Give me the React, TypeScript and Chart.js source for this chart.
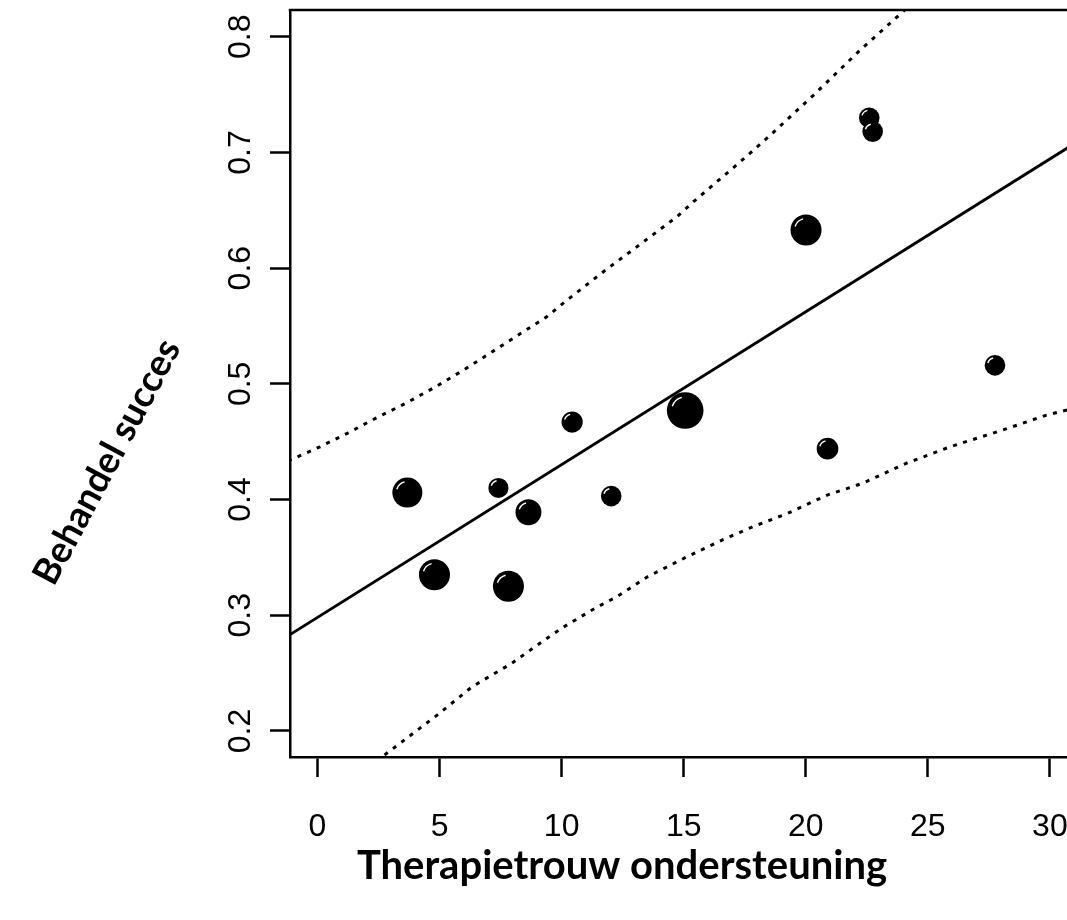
import React, { useEffect, useRef } from "react";
import { Chart, registerables } from "chart.js";

Chart.register(...registerables);

// ---- data ----
const studyX = [3.68, 4.79, 7.41, 7.82, 8.64, 10.43, 12.03, 15.06, 20.01, 20.89, 22.6, 22.74, 27.75];
const studyY = [0.406, 0.335, 0.41, 0.325, 0.389, 0.467, 0.403, 0.477, 0.633, 0.444, 0.73, 0.718, 0.516];
const studyWeight = [10.2, 10.9, 4.6, 10.9, 7.6, 5.1, 4.8, 15.2, 10.9, 5.3, 4.8, 4.8, 4.8];

const fitX = [-2, 32];
const fitY = [0.2717, 0.7208];

const upperX = [-2, -1.06, 0.1, 1.26, 2.45, 3.66, 4.89, 5.98, 7.48, 9.39, 10.14, 11.71, 12.81, 14.72, 15.4, 17.32, 18.48, 20.32, 22.23, 23.87, 25];
const upperY = [0.426, 0.4347, 0.4456, 0.4577, 0.471, 0.4837, 0.4981, 0.5119, 0.5321, 0.558, 0.571, 0.5969, 0.6142, 0.6444, 0.6574, 0.692, 0.7136, 0.7496, 0.7885, 0.8196, 0.841];

const lowerX = [2.4, 2.92, 4.9, 6.33, 7.95, 9.39, 10.1, 11.36, 12.26, 13.52, 15.14, 16.57, 17.83, 19.26, 20.88, 22.32, 24.11, 25.91, 28.07, 29.86, 31];
const lowerY = [0.1739, 0.182, 0.2137, 0.2382, 0.2584, 0.28, 0.2901, 0.306, 0.316, 0.3333, 0.3506, 0.365, 0.3765, 0.3881, 0.4039, 0.414, 0.4313, 0.4456, 0.4601, 0.473, 0.479];

const xTitle = "Therapietrouw ondersteuning";
const yTitle = "Behandel succes";
const xRange = [-1.127, 30.7];
const yRange = [0.1775, 0.8231];
const xStep = 5;
const yStep = 0.1;

const toPts = (xs: number[], ys: number[]) => xs.map((x, i) => ({ x, y: ys[i] }));

const TICK_FONT = "'Liberation Sans', Arial, sans-serif";
const TITLE_FONT = "Lato, 'Open Sans', sans-serif";

const decorPlugin = {
  id: "decor",
  afterDatasetsDraw(chart: any) {
    const ctx = chart.ctx;
    const meta = chart.getDatasetMeta(0);
    ctx.save();
    meta.data.forEach((el: any) => {
      const r = el.options.radius;
      ctx.beginPath();
      ctx.strokeStyle = "#fff";
      ctx.lineWidth = 1.4;
      ctx.arc(el.x, el.y, r * 0.74, Math.PI * 1.1, Math.PI * 1.42);
      ctx.stroke();
    });
    ctx.restore();
  },
  afterDraw(chart: any) {
    const ctx = chart.ctx;
    const area = chart.chartArea;
    const ys = chart.scales.y;
    ctx.save();
    // top frame line
    ctx.strokeStyle = "#000";
    ctx.lineWidth = 2.5;
    ctx.beginPath();
    ctx.moveTo(area.left - 1.25, area.top);
    ctx.lineTo(area.right, area.top);
    ctx.stroke();

    // rotated y tick labels
    ctx.fillStyle = "#000";
    ctx.font = `32px ${TICK_FONT}`;
    ctx.textAlign = "center";
    ctx.textBaseline = "alphabetic";
    ys.ticks.forEach((t: any) => {
      const py = ys.getPixelForValue(t.value);
      ctx.save();
      ctx.translate(area.left - 40, py);
      ctx.rotate(-Math.PI / 2);
      ctx.fillText(t.value.toFixed(1), 0, 0);
      ctx.restore();
    });

    // axis titles
    ctx.font = `bold 40px ${TITLE_FONT}`;
    ctx.textAlign = "center";
    ctx.textBaseline = "middle";
    ctx.fillText(xTitle, 622, 866);
    ctx.save();
    ctx.translate(107, 462);
    ctx.rotate((-62 * Math.PI) / 180);
    ctx.font = `bold 37px ${TITLE_FONT}`;
    ctx.fillText(yTitle, 0, 0);
    ctx.restore();
    ctx.restore();
  },
};

export default function App() {
  const ref = useRef<HTMLCanvasElement | null>(null);
  useEffect(() => {
    if (!ref.current) return;
    const chart = new Chart(ref.current, {
      type: "bubble",
      data: {
        datasets: [
          {
            type: "bubble",
            data: studyX.map((x, i) => ({ x, y: studyY[i] })),
            backgroundColor: "#000",
            borderWidth: 0,
            radius: (c: any) => 4.7 * Math.sqrt(studyWeight[c.dataIndex] ?? 0),
          } as any,
          {
            type: "line",
            data: toPts(fitX, fitY),
            borderColor: "#000",
            borderWidth: 2.8,
            pointRadius: 0,
            fill: false,
          } as any,
          {
            type: "line",
            data: toPts(upperX, upperY),
            borderColor: "#000",
            borderWidth: 3,
            borderDash: [4, 6.5],
            pointRadius: 0,
            fill: false,
          } as any,
          {
            type: "line",
            data: toPts(lowerX, lowerY),
            borderColor: "#000",
            borderWidth: 3,
            borderDash: [4, 6.5],
            pointRadius: 0,
            fill: false,
          } as any,
        ],
      },
      options: {
        animation: false,
        responsive: false,
        devicePixelRatio: 1,
        layout: { autoPadding: false, padding: { top: 10, left: 0, right: 0, bottom: 0 } },
        plugins: { legend: { display: false }, tooltip: { enabled: false } },
        scales: {
          x: {
            type: "linear",
            position: "bottom",
            min: xRange[0],
            max: xRange[1],
            ticks: {
              stepSize: xStep,
              includeBounds: false,
              autoSkip: false,
              maxRotation: 0,
              color: "#000",
              padding: 31,
              font: { family: TICK_FONT, size: 32 },
            },
            grid: { drawOnChartArea: false, drawTicks: true, tickLength: 20, tickWidth: 2.5, tickColor: "#000" },
            border: { display: true, color: "#000", width: 2.5 },
            afterFit: (s: any) => {
              s.height = 163;
              s.paddingLeft = 0;
              s.paddingRight = 0;
            },
          },
          y: {
            type: "linear",
            position: "left",
            min: yRange[0],
            max: yRange[1],
            ticks: { display: false, stepSize: yStep, includeBounds: false },
            grid: { drawOnChartArea: false, drawTicks: true, tickLength: 20, tickWidth: 2.5, tickColor: "#000" },
            border: { display: true, color: "#000", width: 2.5 },
            afterFit: (s: any) => {
              s.width = 290;
              s.paddingTop = 0;
              s.paddingBottom = 0;
            },
          },
        },
      } as any,
      plugins: [decorPlugin],
    });
    return () => chart.destroy();
  }, []);
  return (
    <canvas
      ref={ref}
      width={1067}
      height={920}
      style={{ position: "fixed", left: 0, top: 0, width: 1067, height: 920, background: "#fff" }}
    />
  );
}
